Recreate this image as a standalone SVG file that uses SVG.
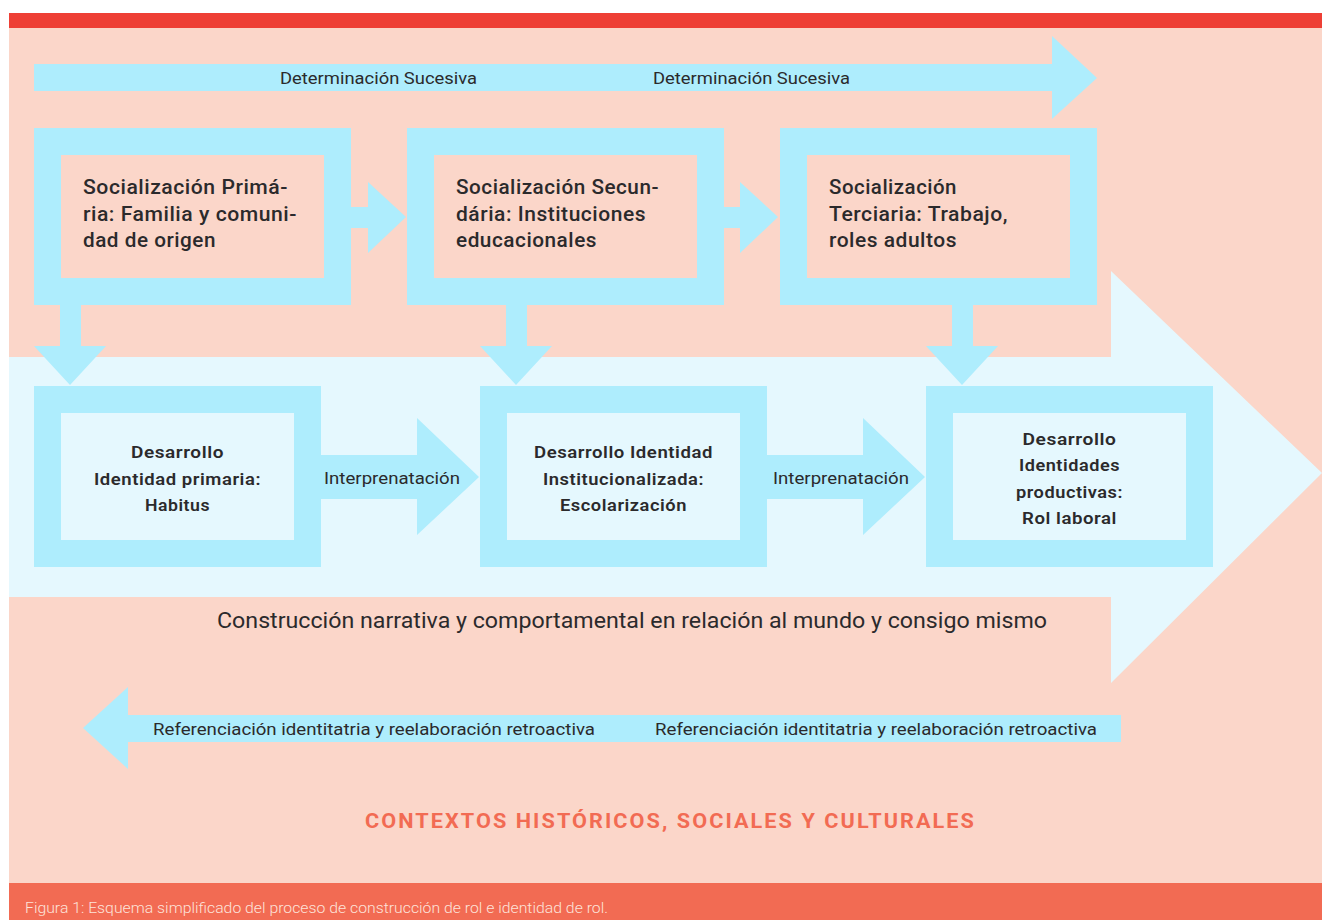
<svg xmlns="http://www.w3.org/2000/svg" width="1322" height="920" viewBox="0 0 1322 920">
  <style>
    .bg { fill: #FBD6C9; }
    .band { fill: #E5F8FE; }
    .arrow { fill: #AEEDFD; }
    .frame-top { fill: #FBD6C9; stroke: #AEEDFD; stroke-width: 27; }
    .frame-low { fill: #E5F8FE; stroke: #AEEDFD; stroke-width: 27; }
    text { font-family: Roboto, "DejaVu Sans", sans-serif; fill: #2B2A2C; }
    .lbl { font-size: 17px; }
    .head { font-size: 20px; font-weight: 500; letter-spacing: 0.5px; }
    .sub { font-size: 17px; font-weight: 600; text-anchor: middle; letter-spacing: 0.5px; }
    .wide { font-size: 22px; }
    .title { font-size: 21px; font-weight: bold; fill: #F26B53; letter-spacing: 2px; }
    .caption { font-size: 14px; fill: #FDE3DA; font-weight: 300; }
  </style>

  <!-- page -->
  <rect x="0" y="0" width="1322" height="920" fill="#FFFFFF"/>
  <rect class="bg" x="9" y="28" width="1313" height="855"/>
  <rect x="9" y="13" width="1313" height="15" fill="#EE3F35"/>
  <rect x="9" y="883" width="1313" height="37" fill="#F26B53"/>

  <!-- large background arrow -->
  <polygon class="band" points="9,357 1111,357 1111,271 1322,473 1111,683 1111,597 9,597"/>

  <g id="connectors">
    <!-- successive determination -->
    <polygon class="arrow" points="34,64 1052,64 1052,36 1097,78 1052,119 1052,91 34,91"/>
    <!-- top row links -->
    <polygon class="arrow" points="351,207 368,207 368,182 406,217 368,253 368,228 351,228"/>
    <polygon class="arrow" points="723,207 740,207 740,182 778,217 740,253 740,228 723,228"/>
    <!-- downward links -->
    <polygon class="arrow" points="60,304 81,304 81,346 106,346 70,385 34,346 60,346"/>
    <polygon class="arrow" points="506,304 527,304 527,346 552,346 516,385 480,346 506,346"/>
    <polygon class="arrow" points="952,304 973,304 973,346 998,346 962,385 926,346 952,346"/>
    <!-- interpretation links -->
    <polygon class="arrow" points="320,455 417,455 417,418 479,477 417,535 417,499 320,499"/>
    <polygon class="arrow" points="766,455 863,455 863,418 925,477 863,535 863,499 766,499"/>
    <!-- retroactive reference -->
    <polygon class="arrow" points="83,728 128,687 128,715 1121,715 1121,742 128,742 128,769"/>

    <text class="lbl" x="280" y="84" textLength="197" lengthAdjust="spacingAndGlyphs">Determinación Sucesiva</text>
    <text class="lbl" x="653" y="84" textLength="197" lengthAdjust="spacingAndGlyphs">Determinación Sucesiva</text>
    <text class="lbl" x="324" y="484" textLength="136" lengthAdjust="spacingAndGlyphs">Interprenatación</text>
    <text class="lbl" x="773" y="484" textLength="136" lengthAdjust="spacingAndGlyphs">Interprenatación</text>
    <text class="lbl" x="153" y="735" textLength="442" lengthAdjust="spacingAndGlyphs">Referenciación identitatria y reelaboración retroactiva</text>
    <text class="lbl" x="655" y="735" textLength="442" lengthAdjust="spacingAndGlyphs">Referenciación identitatria y reelaboración retroactiva</text>
  </g>

  <g id="socializacion-primaria">
    <rect class="frame-top" x="47.5" y="141.5" width="290" height="150"/>
    <text class="head" x="83" y="194" textLength="205" lengthAdjust="spacingAndGlyphs">Socialización Primá-</text>
    <text class="head" x="83" y="221" textLength="214" lengthAdjust="spacingAndGlyphs">ria: Familia y comuni-</text>
    <text class="head" x="83" y="247" textLength="133" lengthAdjust="spacingAndGlyphs">dad de origen</text>
  </g>

  <g id="socializacion-secundaria">
    <rect class="frame-top" x="420.5" y="141.5" width="290" height="150"/>
    <text class="head" x="456" y="194" textLength="203" lengthAdjust="spacingAndGlyphs">Socialización Secun-</text>
    <text class="head" x="456" y="221" textLength="190" lengthAdjust="spacingAndGlyphs">dária: Instituciones</text>
    <text class="head" x="456" y="247" textLength="141" lengthAdjust="spacingAndGlyphs">educacionales</text>
  </g>

  <g id="socializacion-terciaria">
    <rect class="frame-top" x="793.5" y="141.5" width="290" height="150"/>
    <text class="head" x="829" y="194" textLength="128" lengthAdjust="spacingAndGlyphs">Socialización</text>
    <text class="head" x="829" y="221" textLength="179" lengthAdjust="spacingAndGlyphs">Terciaria: Trabajo,</text>
    <text class="head" x="829" y="247" textLength="128" lengthAdjust="spacingAndGlyphs">roles adultos</text>
  </g>

  <g id="identidad-primaria">
    <rect class="frame-low" x="47.5" y="399.5" width="260" height="154"/>
    <text class="sub" x="177.5" y="458" textLength="93" lengthAdjust="spacingAndGlyphs">Desarrollo</text>
    <text class="sub" x="177.5" y="485" textLength="167" lengthAdjust="spacingAndGlyphs">Identidad primaria:</text>
    <text class="sub" x="177.5" y="511" textLength="65" lengthAdjust="spacingAndGlyphs">Habitus</text>
  </g>

  <g id="identidad-institucionalizada">
    <rect class="frame-low" x="493.5" y="399.5" width="260" height="154"/>
    <text class="sub" x="623.5" y="458" textLength="179" lengthAdjust="spacingAndGlyphs">Desarrollo Identidad</text>
    <text class="sub" x="623.5" y="485" textLength="161" lengthAdjust="spacingAndGlyphs">Institucionalizada:</text>
    <text class="sub" x="623.5" y="511" textLength="127" lengthAdjust="spacingAndGlyphs">Escolarización</text>
  </g>

  <g id="identidades-productivas">
    <rect class="frame-low" x="939.5" y="399.5" width="260" height="154"/>
    <text class="sub" x="1069.5" y="445" textLength="94" lengthAdjust="spacingAndGlyphs">Desarrollo</text>
    <text class="sub" x="1069.5" y="471" textLength="101" lengthAdjust="spacingAndGlyphs">Identidades</text>
    <text class="sub" x="1069.5" y="498" textLength="107" lengthAdjust="spacingAndGlyphs">productivas:</text>
    <text class="sub" x="1069.5" y="524" textLength="95" lengthAdjust="spacingAndGlyphs">Rol laboral</text>
  </g>

  <g id="construccion">
    <text class="wide" x="217" y="628" textLength="830" lengthAdjust="spacingAndGlyphs">Construcción narrativa y comportamental en relación al mundo y consigo mismo</text>
  </g>

  <g id="contextos">
    <text class="title" x="365" y="828" textLength="611" lengthAdjust="spacingAndGlyphs">CONTEXTOS HISTÓRICOS, SOCIALES Y CULTURALES</text>
  </g>

  <text class="caption" x="25" y="913" textLength="583" lengthAdjust="spacingAndGlyphs">Figura 1: Esquema simplificado del proceso de construcción de rol e identidad de rol.</text>
</svg>
